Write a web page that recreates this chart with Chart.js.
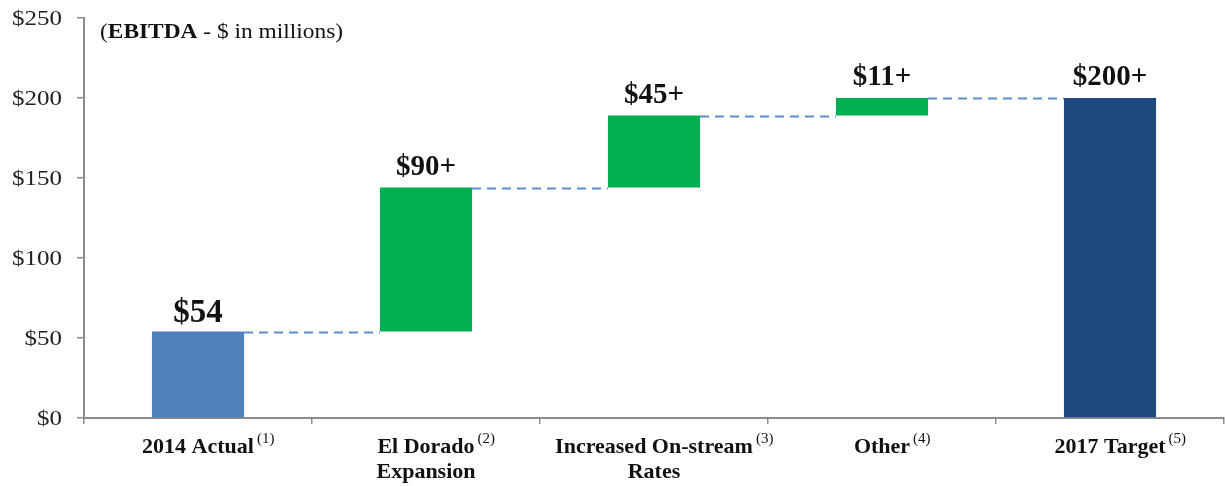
<!DOCTYPE html>
<html>
<head>
<meta charset="utf-8">
<script src="https://cdn.jsdelivr.net/npm/chart.js@4.4.0/dist/chart.umd.min.js"></script>
<style>
  html, body { margin: 0; padding: 0; background: #fff; }
  #wrap { width: 1225px; height: 486px; position: relative; }
</style>
</head>
<body>
<div id="wrap"><canvas id="bridge"></canvas></div>
<script>
// --- data ---
const categories = [['2014 Actual'], ['El Dorado', 'Expansion'], ['Increased On-stream', 'Rates'], ['Other'], ['2017 Target']];
const notes = ['(1)', '(2)', '(3)', '(4)', '(5)'];
const amounts = [54, 90, 45, 11, 200];
const kinds = ['total', 'step', 'step', 'step', 'total'];
const valueLabels = ['$54', '$90+', '$45+', '$11+', '$200+'];
const yTicks = [0, 50, 100, 150, 200, 250];

const SERIF = "'Liberation Serif', 'Times New Roman', serif";
const colors = { total: '#4F81BD', step: '#00B050', target: '#1F497D', dash: '#5B8ED2', axis: '#8c8c8c', text: '#111' };

// floating bar ranges from the running total
const ranges = [];
let run = 0;
amounts.forEach(function(a, i) {
  if (kinds[i] === 'total') { ranges.push([0, a]); run = a; }
  else { ranges.push([run, run + a]); run += a; }
});
const barColors = kinds.map(function(k, i) {
  if (k === 'step') return colors.step;
  return i === 0 ? colors.total : colors.target;
});

// text drawn a bit wider than the font, like the source slide
function wideText(ctx, text, x, y, sx) {
  ctx.save();
  ctx.translate(x, y);
  ctx.scale(sx, 1);
  ctx.fillText(text, 0, 0);
  ctx.restore();
}

const bridgeDecor = {
  id: 'bridgeDecor',
  afterDatasetsDraw(chart) {
    const ctx = chart.ctx;
    const y = chart.scales.y;
    const bars = chart.getDatasetMeta(0).data;
    ctx.save();
    // dashed connectors between bar tops
    ctx.strokeStyle = colors.dash;
    ctx.lineWidth = 2;
    ctx.setLineDash([9, 6]);
    for (let i = 0; i < bars.length - 1; i++) {
      const a = bars[i], b = bars[i + 1];
      const py = Math.round(y.getPixelForValue(ranges[i][1])) + 0.5;
      ctx.beginPath();
      ctx.moveTo(a.x + a.width / 2, py);
      ctx.lineTo(b.x - b.width / 2, py);
      ctx.stroke();
    }
    ctx.setLineDash([]);
    // value labels
    ctx.fillStyle = colors.text;
    ctx.textAlign = 'center';
    ctx.textBaseline = 'alphabetic';
    bars.forEach(function(el, i) {
      const top = Math.min(el.y, el.base);
      ctx.font = 'bold ' + (i === 0 ? 33 : 29) + 'px ' + SERIF;
      ctx.fillText(valueLabels[i], el.x, top - (i === 0 ? 10 : 13));
    });
    ctx.restore();
  },
  afterDraw(chart) {
    const ctx = chart.ctx;
    const x = chart.scales.x;
    const y = chart.scales.y;
    ctx.save();
    ctx.fillStyle = colors.text;
    ctx.textBaseline = 'middle';
    // category labels with footnote marks
    categories.forEach(function(lines, i) {
      const cx = x.getPixelForValue(i);
      lines.forEach(function(line, j) {
        ctx.font = 'bold 22px ' + SERIF;
        ctx.textAlign = 'center';
        const ly = 447 + j * 25;
        ctx.fillText(line, cx, ly);
        if (j === 0) {
          const w = ctx.measureText(line).width;
          ctx.font = '15px ' + SERIF;
          ctx.textAlign = 'left';
          ctx.fillText(notes[i], cx + w / 2 + 3, ly - 8);
        }
      });
    });
    // y tick labels
    ctx.fillStyle = '#222';
    ctx.font = '21px ' + SERIF;
    ctx.textAlign = 'right';
    yTicks.forEach(function(v) {
      wideText(ctx, '$' + v, 62, y.getPixelForValue(v) + 1, 1.19);
    });
    // heading
    ctx.fillStyle = colors.text;
    ctx.textAlign = 'left';
    ctx.textBaseline = 'alphabetic';
    let hx = 100;
    const hy = 38;
    const sx = 1.17;
    const parts = [['(', 'normal'], ['EBITDA', 'bold'], [' - $ in millions)', 'normal']];
    parts.forEach(function(p) {
      ctx.font = p[1] + ' 20px ' + SERIF;
      wideText(ctx, p[0], hx, hy, sx);
      hx += ctx.measureText(p[0]).width * sx;
    });
    ctx.restore();
  }
};

new Chart(document.getElementById('bridge'), {
  type: 'bar',
  data: {
    labels: categories.map(function(c) { return c.join(' '); }),
    datasets: [{
      data: ranges,
      backgroundColor: barColors,
      borderWidth: 0,
      borderSkipped: false,
      barPercentage: 0.404,
      categoryPercentage: 1.0
    }]
  },
  options: {
    responsive: true, maintainAspectRatio: false,
    animation: false,
    layout: { autoPadding: false, padding: { top: 18, right: 1, left: 0, bottom: 0 } },
    plugins: { legend: { display: false }, tooltip: { enabled: false } },
    scales: {
      x: {
        offset: true,
        grid: { display: true, offset: true, drawOnChartArea: false, tickLength: 6, color: colors.axis, lineWidth: 1.5 },
        border: { color: colors.axis, width: 2 },
        ticks: { display: false },
        afterFit: function(s) { s.height = 68; }
      },
      y: {
        min: 0, max: 250,
        afterBuildTicks: function(s) { s.ticks = yTicks.map(function(v) { return { value: v }; }); },
        grid: { drawOnChartArea: false, tickLength: 7, color: colors.axis, lineWidth: 1.5 },
        border: { color: colors.axis, width: 2 },
        ticks: { display: false },
        afterFit: function(s) { s.width = 84; }
      }
    }
  },
  plugins: [bridgeDecor]
});
</script>
</body>
</html>
